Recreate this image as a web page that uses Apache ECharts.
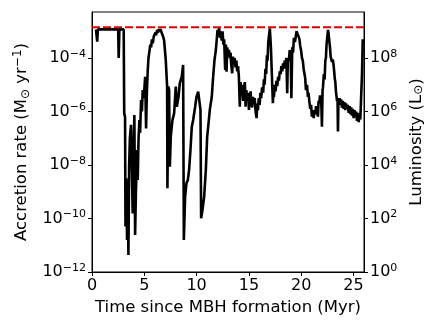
<!DOCTYPE html>
<html>
<head>
<meta charset="utf-8">
<script src="https://cdn.jsdelivr.net/npm/echarts@6/dist/echarts.min.js"></script>
<style>
  html, body { margin: 0; padding: 0; background: #fff; }
  #chart { width: 436px; height: 327px; }
</style>
</head>
<body>
<div id="chart"></div>
<script>
// time since MBH formation (Myr)
var times = [0.38, 0.45, 0.5, 0.56, 1.5, 2.5, 2.55, 2.62, 3.03, 3.08, 3.16, 3.2, 3.28, 3.35, 3.42, 3.48, 3.55, 3.62, 3.73, 3.8,
  3.89, 3.97, 4.05, 4.12, 4.2, 4.31, 4.37, 4.45, 4.53, 4.6, 4.69, 4.77, 4.85, 4.95, 5.08, 5.17, 5.25,
  5.33, 5.4, 5.49, 5.57, 5.65, 5.73, 5.81, 5.9, 6.0, 6.07, 6.13, 6.22, 6.3, 6.38, 6.45, 6.55, 6.65, 6.73, 6.8, 6.89,
  7.05, 7.18, 7.21, 7.3, 7.37, 7.44, 7.53, 7.69, 7.85, 8.01, 8.11, 8.27,
  8.39, 8.58, 8.71, 8.78, 8.9, 9.03, 9.16, 9.28, 9.41, 9.54, 9.67, 9.86, 9.99, 10.15, 10.31, 10.37, 10.43, 10.56, 10.72, 10.88,
  11.01, 11.14, 11.26, 11.45, 11.58, 11.71, 11.84,
  12.0, 12.08, 12.15, 12.24, 12.32, 12.4, 12.48, 12.56, 12.63, 12.73, 12.8, 12.86, 12.93, 12.99, 13.08, 13.18, 13.24, 13.3, 13.4, 13.48,
  13.56, 13.64, 13.72, 13.8, 13.88, 13.96, 14.04, 14.13, 14.2, 14.26, 14.35, 14.45, 14.53, 14.61, 14.68, 14.75, 14.83, 14.92, 15.0, 15.08,
  15.16, 15.23, 15.31, 15.39, 15.47, 15.55, 15.64, 15.73, 15.8, 15.86, 15.94, 16.02, 16.1, 16.17, 16.26, 16.36, 16.43, 16.5, 16.58, 16.65,
  16.72, 16.78, 16.85, 16.91, 17.0,
  17.1, 17.2, 17.29, 17.35, 17.39, 17.47, 17.55, 17.63, 17.71, 17.79, 17.87, 17.95, 18.03, 18.1, 18.18, 18.26, 18.34, 18.42, 18.51, 18.58,
  18.66, 18.72, 18.82, 18.9, 18.99, 19.06, 19.14, 19.22, 19.3, 19.4, 19.55,
  19.65, 19.75, 19.83, 19.9, 19.98, 20.07, 20.15, 20.23, 20.3, 20.38, 20.45, 20.55, 20.64, 20.7, 20.77, 20.86, 20.94, 21.02, 21.1, 21.19,
  21.27, 21.34, 21.42, 21.5, 21.6, 21.66, 21.72, 21.8, 21.91, 21.98, 22.04, 22.08, 22.16, 22.24, 22.3, 22.36, 22.42, 22.46, 22.56,
  22.62, 22.68, 22.75, 22.81, 22.88, 22.94, 23.02, 23.1, 23.15, 23.2, 23.26, 23.32, 23.37, 23.42, 23.47, 23.51, 23.56, 23.61, 23.67, 23.73,
  23.81, 23.89, 23.97, 24.06, 24.13, 24.21, 24.29, 24.37, 24.45, 24.54, 24.62, 24.69, 24.77, 24.85, 24.93, 25.01, 25.09, 25.17, 25.25, 25.33,
  25.41, 25.49, 25.57, 25.65, 25.74, 25.81, 25.88];
// log10 accretion rate (Msun/yr)
var logRate = [-2.93, -2.93, -3.39, -2.93, -2.93, -2.93, -4.0, -2.93, -2.93, -6.07, -6.2, -10.3, -8.5, -10.8, -9.0, -11.36, -8.0, -7.0, -6.5, -8.0,
  -9.81, -7.5, -6.13, -10.62, -9.0, -7.44, -8.56, -7.0, -6.32, -6.8, -5.57, -6.0, -5.2, -5.5, -4.7, -6.63, -5.2,
  -4.45, -4.0, -3.75, -3.5, -3.6, -3.3, -3.45, -3.2, -3.25, -3.05, -3.15, -2.95, -3.05, -2.92, -3.0, -2.92, -3.05, -3.0, -3.2, -3.33,
  -4.07, -5.07, -8.87, -5.07, -5.2, -8.06, -6.94, -6.32, -6.07, -5.07, -5.82, -5.45,
  -4.95, -4.7, -4.26, -10.8, -9.19, -8.68, -8.56, -8.19, -7.44, -6.57, -6.32, -5.82, -5.45, -5.26, -5.32, -5.94, -9.99, -9.68, -9.19, -8.19,
  -6.94, -6.44, -5.94, -5.45, -4.7, -4.07, -3.7,
  -2.95, -3.2, -2.87, -3.25, -3.0, -3.35, -3.0, -3.5, -3.3, -4.45, -3.5, -4.51, -3.6, -3.9, -3.7, -4.0, -3.8, -4.2, -4.57, -3.95,
  -4.2, -4.0, -4.35, -4.1, -4.5, -4.3, -4.7, -5.82, -4.9, -5.4, -5.0, -5.6, -5.1, -4.9, -5.82, -5.2, -5.5, -5.3, -5.94, -5.4,
  -5.25, -5.7, -5.85, -5.45, -5.7, -5.5, -6.0, -6.25, -5.7, -5.95, -5.5, -5.75, -5.3, -5.5, -5.1, -5.3, -4.8, -5.0, -4.4, -4.6,
  -3.9, -4.1, -3.4, -3.4, -2.89,
  -3.58, -4.7, -5.69, -5.2, -5.45, -5.0, -5.25, -4.85, -5.05, -4.7, -4.85, -4.5, -4.6, -4.3, -4.5, -4.2, -4.4, -4.1, -4.25, -4.0,
  -5.32, -4.0, -4.1, -3.7, -3.9, -5.5, -3.6, -3.8, -3.25, -3.4, -3.0,
  -3.1, -3.2, -3.3, -3.55, -3.7, -4.0, -4.1, -4.4, -4.45, -4.75, -5.2, -5.0, -5.45, -5.3, -5.6, -5.9, -5.75, -6.19, -5.95, -6.25,
  -5.95, -6.1, -5.8, -6.0, -6.19, -5.6, -5.7, -5.4, -5.6, -6.57, -5.2, -5.1, -4.6, -4.8, -4.1, -4.0, -3.5, -3.5, -2.95,
  -3.1, -3.35, -3.6, -3.95, -3.9, -4.15, -4.05, -4.3, -4.5, -4.75, -4.9, -5.25, -5.3, -5.6, -5.5, -6.75, -5.5, -5.75, -5.5, -5.7,
  -5.55, -5.85, -5.6, -5.9, -5.65, -5.95, -5.7, -5.9, -5.75, -6.05, -5.8, -6.1, -5.85, -6.15, -5.9, -6.25, -5.95, -6.2, -6.0, -6.35,
  -6.05, -6.4, -6.1, -6.3, -5.3, -4.6, -3.3];
// Eddington limit (Msun/yr)
var eddTimes = [0, 26];
var eddRate = 1.4e-3;

var rateMin = 1e-12, rateMax = Math.pow(10, -2.28);
var lumMin = 1, lumMax = Math.pow(10, 9.72);

var FONT = 'DejaVu Sans';

function supLabel(v) {
  var e = Math.log10(v);
  if (Math.abs(e - Math.round(e)) > 1e-6) return '';
  e = Math.round(e);
  var s = e < 0 ? '\u2212' + (-e) : '' + e;
  return '{b|10}{e|' + s + '}';
}

var supRich = {
  b: { fontSize: 16, fontFamily: FONT, color: '#000' },
  e: { fontSize: 11, fontFamily: FONT, color: '#000', verticalAlign: 'top', padding: [0, 0, 8, 0] }
};

var rateData = times.map(function (t, i) { return [t, Math.pow(10, logRate[i])]; });

var chart = echarts.init(document.getElementById('chart'), null, { renderer: 'canvas' });
chart.setOption({
  animation: false,
  grid: { left: 92, right: 72, top: 12, bottom: 55, show: true, borderColor: '#000', borderWidth: 1 },
  xAxis: {
    type: 'value', min: 0, max: 26, interval: 5,
    name: 'Time since MBH formation (Myr)', nameLocation: 'middle', nameGap: 24,
    nameTextStyle: { fontSize: 16.5, fontFamily: FONT, color: '#000' },
    axisLine: { lineStyle: { color: '#000', width: 1 } },
    axisTick: { length: 4, lineStyle: { color: '#000' } },
    axisLabel: { fontSize: 16, fontFamily: FONT, color: '#000', margin: 6, showMaxLabel: false },
    splitLine: { show: false }
  },
  yAxis: [{
    type: 'log', logBase: 10, min: rateMin, max: rateMax, interval: 2,
    name: '{a|Accretion rate (M}{s|\u2299}{a| yr}{e|\u22121}{a|)}', nameLocation: 'middle', nameRotate: 90, nameGap: 58,
    nameTextStyle: {
      rich: {
        a: { fontSize: 16.5, fontFamily: FONT, color: '#000' },
        s: { fontSize: 12, fontFamily: FONT, color: '#000', verticalAlign: 'bottom', padding: [4, 0, 0, 0] },
        e: { fontSize: 12, fontFamily: FONT, color: '#000', verticalAlign: 'top', padding: [0, 0, 8, 0] }
      }
    },
    axisLine: { show: true, lineStyle: { color: '#000', width: 1 } },
    axisTick: { length: 4, lineStyle: { color: '#000' } },
    minorTick: { show: false },
    axisLabel: { formatter: supLabel, rich: supRich, margin: 6, showMaxLabel: false },
    splitLine: { show: false }
  }, {
    type: 'log', logBase: 10, min: lumMin, max: lumMax, interval: 2, position: 'right',
    name: '{a|Luminosity (L}{s|\u2299}{a|)}', nameLocation: 'middle', nameRotate: 90, nameGap: 41,
    nameTextStyle: {
      rich: {
        a: { fontSize: 16.5, fontFamily: FONT, color: '#000' },
        s: { fontSize: 12, fontFamily: FONT, color: '#000', verticalAlign: 'bottom', padding: [4, 0, 0, 0] }
      }
    },
    axisLine: { show: true, lineStyle: { color: '#000', width: 1 } },
    axisTick: { length: 4, lineStyle: { color: '#000' } },
    axisLabel: { formatter: supLabel, rich: supRich, margin: 6, showMaxLabel: false },
    splitLine: { show: false }
  }],
  series: [{
    type: 'line', yAxisIndex: 0, data: rateData, showSymbol: false, symbol: 'none',
    lineStyle: { color: '#000', width: 2.6 }, z: 2
  }, {
    type: 'line', yAxisIndex: 0, data: eddTimes.map(function (t) { return [t, eddRate]; }),
    showSymbol: false, symbol: 'none',
    lineStyle: { color: '#e00000', width: 2, type: [8, 3] }, z: 3
  }]
});
</script>
</body>
</html>
